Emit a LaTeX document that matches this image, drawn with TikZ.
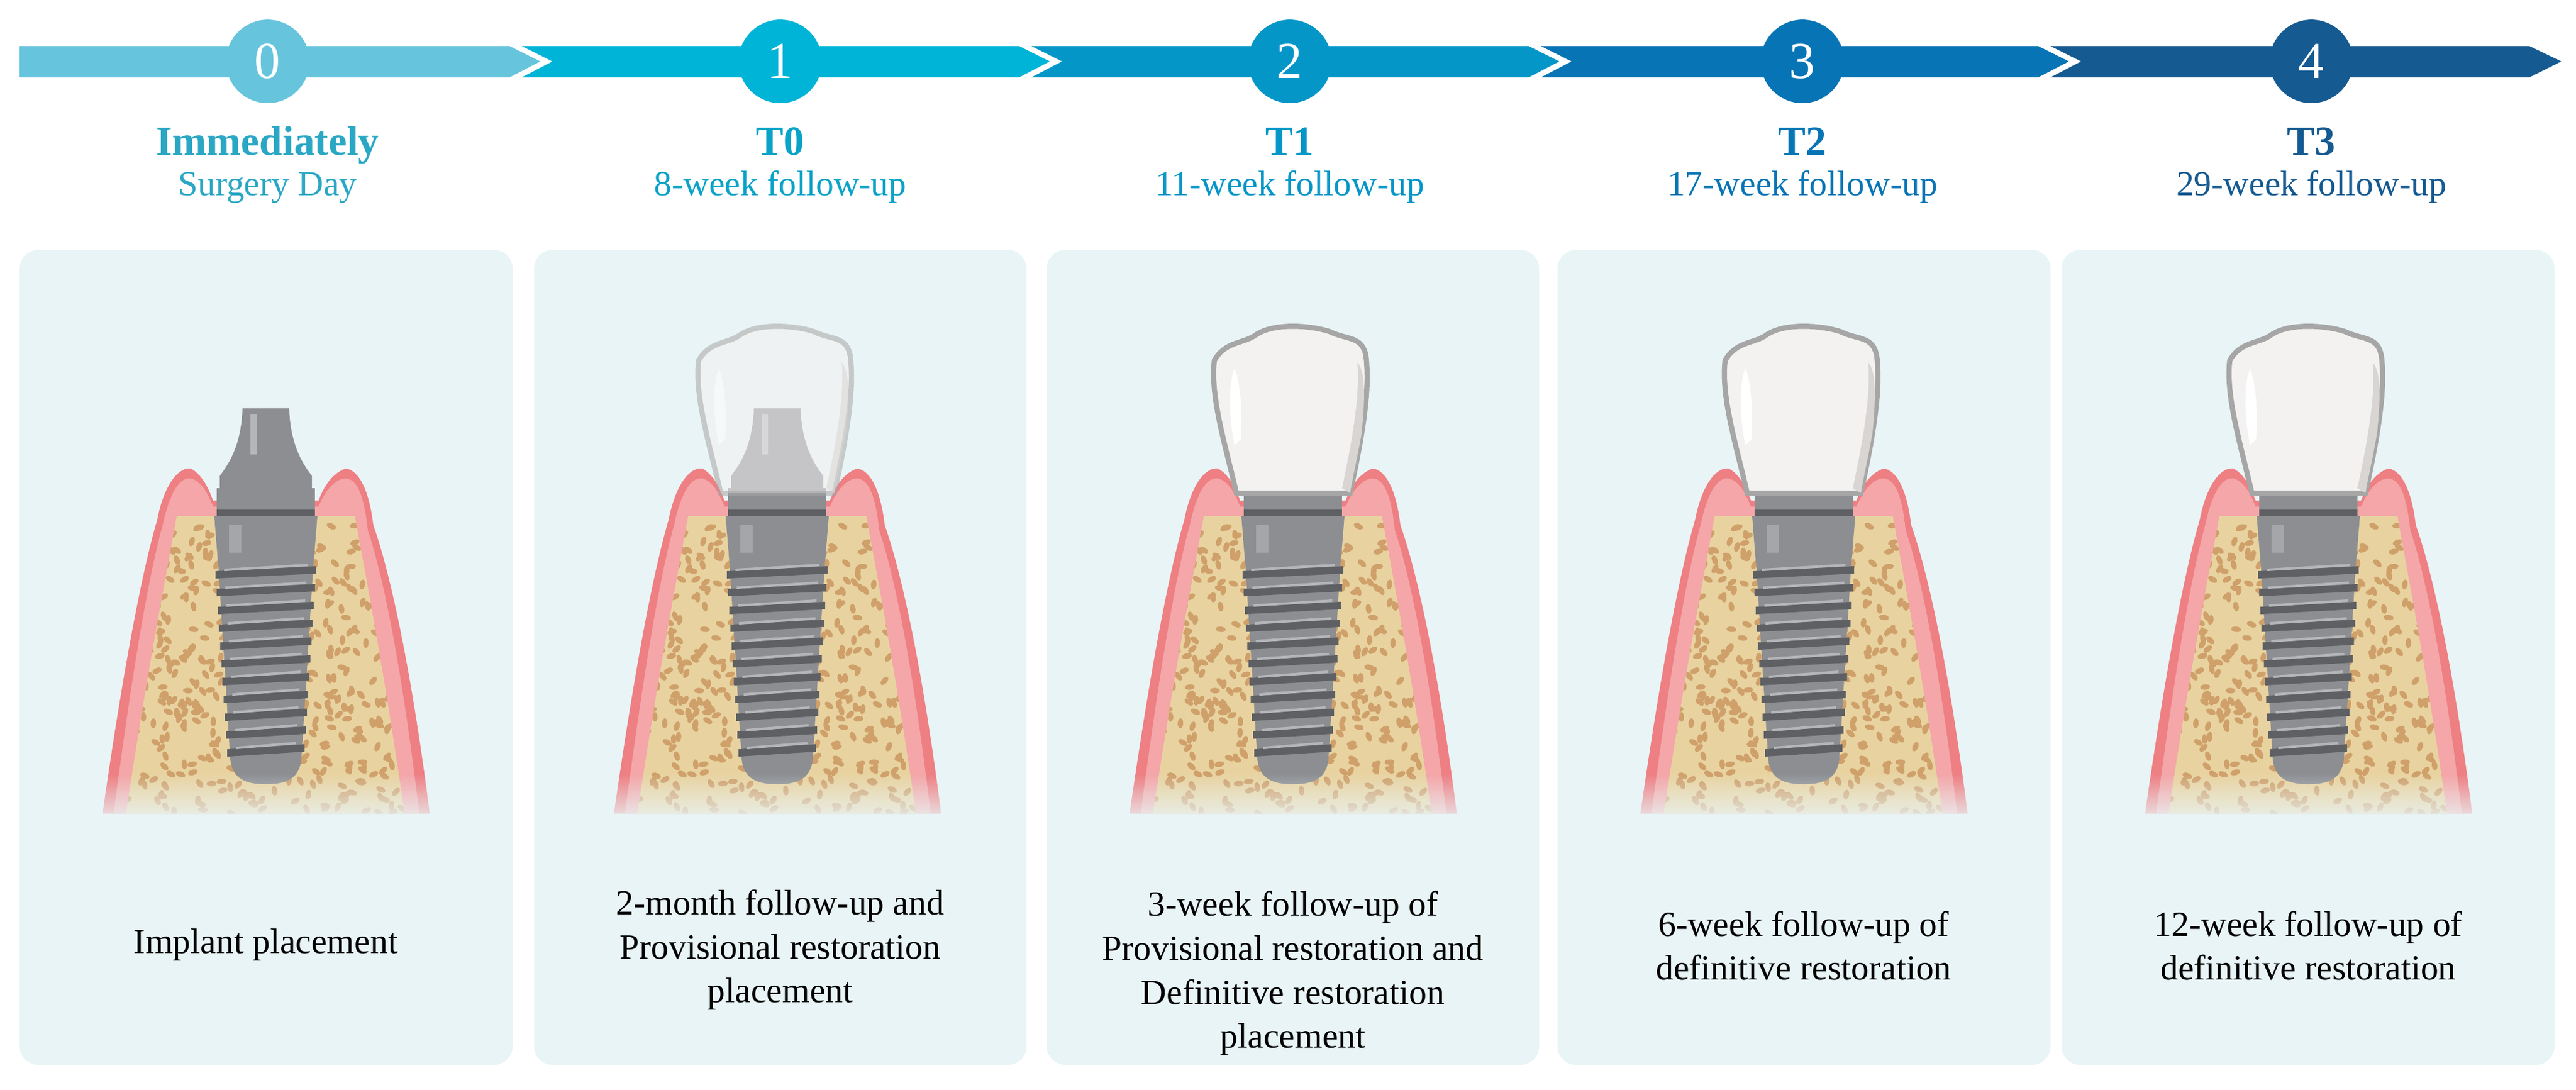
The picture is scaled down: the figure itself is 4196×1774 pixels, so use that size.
\documentclass[tikz,border=0pt]{standalone}
\usepackage{fontspec}
\setmainfont{Liberation Serif}
\usetikzlibrary{fadings}
\definecolor{c0}{HTML}{66C4DC}\definecolor{c1}{HTML}{00B4D8}\definecolor{c2}{HTML}{0596C8}
\definecolor{c3}{HTML}{0774B5}\definecolor{c4}{HTML}{155A91}
\definecolor{t0}{HTML}{2AA7C4}\definecolor{t1}{HTML}{0AA3C8}
\definecolor{pbg}{HTML}{E9F4F6}\definecolor{gum}{HTML}{F4A6A8}\definecolor{gumd}{HTML}{EE7F83}
\definecolor{bone}{HTML}{E8D3A0}\definecolor{spot}{HTML}{CFA06A}
\definecolor{metal}{HTML}{8C8E92}\definecolor{metald}{HTML}{5E6064}\definecolor{metall}{HTML}{B4B6BA}
\definecolor{crown}{HTML}{F4F2F1}\definecolor{crownd}{HTML}{D9D5D3}
\tikzset{
  panel/.style={fill=pbg,rounded corners=4.3pt},
  ttl/.style={font=\fontsize{9.6}{11}\selectfont\bfseries,anchor=base},
  sub/.style={font=\fontsize{8.2}{10}\selectfont,anchor=base},
  body/.style={font=\fontsize{8.2}{10.2}\selectfont,align=center,text=black},
  num/.style={circle,minimum size=0.68cm,inner sep=0,text=white,font=\fontsize{12}{12}\selectfont},
  pics/site/.style={code={
    % gum
    \fill[gumd] (-266,0) .. controls (-230,-250) and (-200,-400) .. (-177,-478) .. controls (-165,-540) and (-140,-565) .. (-122,-562)
      .. controls (-100,-550) and (-90,-520) .. (-86,-510) -- (86,-510) .. controls (95,-535) and (110,-555) .. (130,-562)
      .. controls (150,-560) and (168,-530) .. (175,-470) .. controls (200,-400) and (235,-250) .. (267,0) -- cycle;
    \fill[gum] (-248,0) .. controls (-215,-250) and (-190,-390) .. (-168,-470) .. controls (-155,-530) and (-138,-548) .. (-122,-546)
      .. controls (-102,-540) and (-92,-515) .. (-86,-500) -- (86,-500) .. controls (96,-525) and (112,-545) .. (130,-546)
      .. controls (148,-545) and (160,-520) .. (166,-462) .. controls (190,-390) and (220,-250) .. (250,0) -- cycle;
    % bone
    \begin{scope}
      \clip (-228,0) .. controls (-190,-250) and (-160,-400) .. (-145,-485) -- (145,-485) .. controls (160,-400) and (190,-250) .. (226,0) -- cycle;
      \fill[bone] (-240,10) rectangle (240,-490);
      \pgfmathsetseed{7}
      \foreach \i in {1,...,520}{
        \pgfmathsetmacro\xx{rnd*470-235}\pgfmathsetmacro\yy{-rnd*470}\pgfmathsetmacro\rr{rnd*180}
        \fill[spot,rotate around={\rr:(\xx,\yy)}] (\xx,\yy) ellipse (8 and 4.5);}
    \end{scope}
    % implant body
    \fill[metal] (-78,-415) -- (78,-415) -- (58,-90) .. controls (55,-55) and (30,-48) .. (0,-48) .. controls (-30,-48) and (-55,-55) .. (-58,-90) -- cycle;
    \foreach \k in {0,...,10}{
      \pgfmathsetmacro\yt{-395+\k*29}\pgfmathsetmacro\hw{78-\k*1.9}
      \fill[metald] (-\hw-4,\yt) -- (\hw+4,\yt-8) -- (\hw+4,\yt+4) -- (-\hw-4,\yt+12) -- cycle;
      \fill[metall] (-\hw+10,\yt-4) -- (\hw-10,\yt-12) -- (\hw-10,\yt-8) -- (-\hw+10,\yt) -- cycle;}
    \fill[metal] (-84,-485) -- (84,-485) -- (78,-410) -- (-78,-410) -- cycle;
    \fill[metall,opacity=.6] (-60,-470) rectangle (-40,-425);
    \fill[metald] (-80,-530) rectangle (80,-485);
    \fill[metal] (-80,-530) rectangle (80,-495);
  }},
  pics/abut/.style={code={
    \fill[metal] (-75,-530) -- (-75,-550) .. controls (-60,-570) and (-40,-600) .. (-38,-660) -- (38,-660) .. controls (40,-600) and (60,-570) .. (75,-550) -- (75,-530) -- cycle;
    \fill[metall] (-25,-650) rectangle (-15,-585);
  }},
  pics/crown/.style={code={
    \fill[crown,draw=gray!70,line width=1.2] (-92,-522) .. controls (-110,-600) and (-135,-680) .. (-128,-738)
      .. controls (-110,-770) and (-80,-765) .. (-60,-780) .. controls (-30,-800) and (30,-795) .. (60,-785)
      .. controls (90,-770) and (118,-780) .. (120,-735) .. controls (125,-680) and (110,-600) .. (93,-522) -- cycle;
    \fill[crownd] (80,-530) .. controls (95,-600) and (110,-680) .. (105,-735) .. controls (118,-720) and (118,-680) .. (112,-620) .. controls (105,-580) and (98,-550) .. (93,-522) -- cycle;
    \fill[white] (-95,-600) .. controls (-105,-650) and (-105,-700) .. (-95,-725) .. controls (-85,-700) and (-82,-650) .. (-85,-610) -- cycle;
  }}
}
\begin{document}
\begin{tikzpicture}[x=0.005cm,y=-0.005cm]
\useasboundingbox (0,0) rectangle (4196,1774);
% arrow band
\fill[c0] (32,75) -- (830,75) -- (880,100) -- (830,126) -- (32,126) -- cycle;
\fill[c1] (850,75) -- (1660,75) -- (1710,100) -- (1660,126) -- (850,126) -- (900,100) -- cycle;
\fill[c2] (1680,75) -- (2490,75) -- (2540,100) -- (2490,126) -- (1680,126) -- (1730,100) -- cycle;
\fill[c3] (2510,75) -- (3320,75) -- (3370,100) -- (3320,126) -- (2510,126) -- (2560,100) -- cycle;
\fill[c4] (3340,75) -- (4120,75) -- (4172,100) -- (4120,126) -- (3340,126) -- (3390,100) -- cycle;
\node[num,fill=c0] (n0) at (436,100) {0};
\node[num,fill=c1] (n1) at (1271,100) {1};
\node[num,fill=c2] (n2) at (2101,100) {2};
\node[num,fill=c3] (n3) at (2936,100) {3};
\node[num,fill=c4] (n4) at (3765,100) {4};
\node[ttl,text=t0] (h0) at (436,252) {Immediately};
\node[sub,text=t0] (s0) at (436,318) {Surgery Day};
\node[ttl,text=t1] (h1) at (1271,252) {T0};
\node[sub,text=t1] (s1) at (1271,318) {8-week follow-up};
\node[ttl,text=c2] (h2) at (2101,252) {T1};
\node[sub,text=c2] (s2) at (2101,318) {11-week follow-up};
\node[ttl,text=c3] (h3) at (2936,252) {T2};
\node[sub,text=c3] (s3) at (2936,318) {17-week follow-up};
\node[ttl,text=c4] (h4) at (3765,252) {T3};
\node[sub,text=c4] (s4) at (3765,318) {29-week follow-up};
% panels
\fill[panel] (32,407) rectangle (835,1734);
\fill[panel] (870,407) rectangle (1672,1734);
\fill[panel] (1705,407) rectangle (2507,1734);
\fill[panel] (2537,407) rectangle (3340,1734);
\fill[panel] (3358,407) rectangle (4161,1734);
% illustrations
\pic at (433,1325) {site}; \pic at (433,1325) {abut};
\pic at (1266,1325) {site}; \pic at (1266,1325) {abut}; \pic[opacity=.55] at (1266,1325) {crown};
\pic at (2106,1325) {site}; \pic at (2106,1325) {crown};
\pic at (2938,1325) {site}; \pic at (2938,1325) {crown};
\pic at (3760,1325) {site}; \pic at (3760,1325) {crown};
\foreach \c in {433,1266,2106,2938,3760}{
  \fill[pbg,path fading=north] (\c-290,1345) rectangle (\c+290,1260);}
% texts
\node[body] (b0) at (433,1539) {Implant placement};
\node[body] (b1) at (1271,1547) {2-month follow-up and\\Provisional restoration\\placement};
\node[body] (b2) at (2106,1585) {3-week follow-up of\\Provisional restoration and\\Definitive restoration\\placement};
\node[body] (b3) at (2938,1540) {6-week follow-up of\\definitive restoration};
\node[body] (b4) at (3760,1540) {12-week follow-up of\\definitive restoration};
\end{tikzpicture}
\end{document}
